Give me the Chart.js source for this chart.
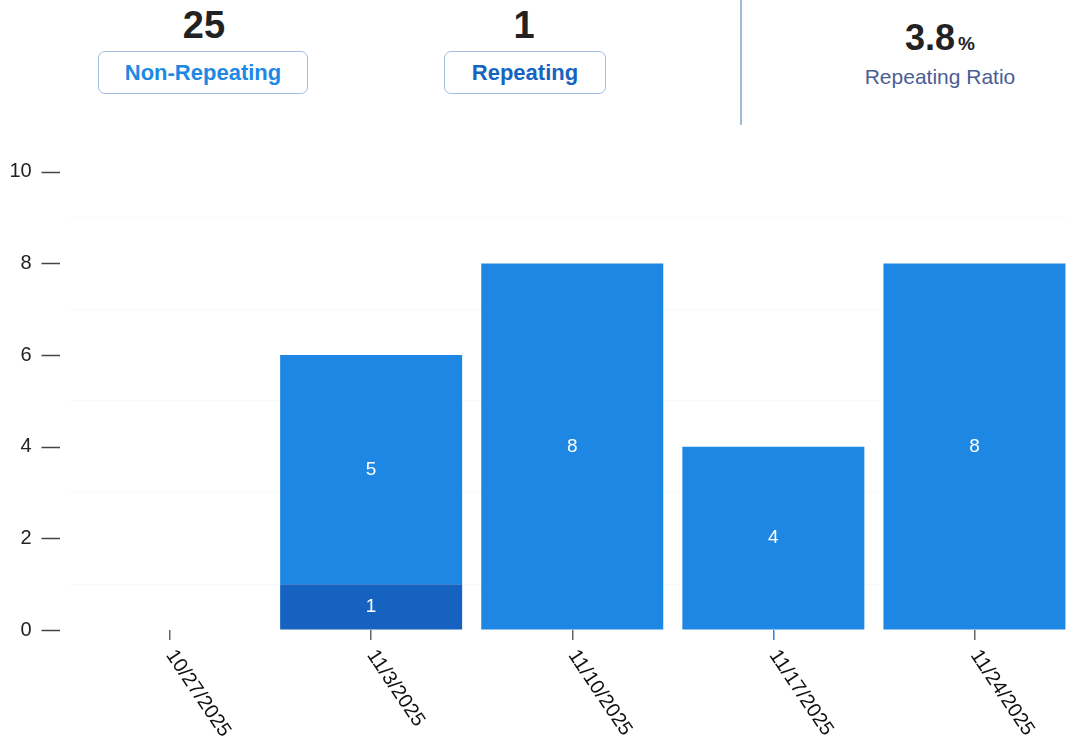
<!DOCTYPE html>
<html>
<head>
<meta charset="utf-8">
<script src="https://cdn.jsdelivr.net/npm/chart.js@4.4.0/dist/chart.umd.min.js"></script>
<style>
  html, body { margin:0; padding:0; background:#fff; overflow:hidden; width:1066px; height:747px; }
  body { position:relative; font-family:"Liberation Sans", Arial, sans-serif; }
  .num { position:absolute; font-weight:bold; color:#222; line-height:1; text-align:center; white-space:nowrap; }
  .box { position:absolute; box-sizing:border-box; border:1.5px solid #9dbde2; border-radius:7px;
         display:flex; align-items:center; justify-content:center; font-weight:bold; font-size:22px; }
  .divider { position:absolute; left:740px; top:0; width:1.5px; height:125px; background:#9fbbd8; }
  #wrap { position:absolute; left:0; top:122px; width:1075px; height:625px; }
</style>
</head>
<body>
<div class="num" style="left:144px; width:120px; top:5.8px; font-size:38px;">25</div>
<div class="box" style="left:98px; top:51px; width:210px; height:43px; color:#1e88e5;">Non-Repeating</div>
<div class="num" style="left:464px; width:120px; top:5.8px; font-size:38px;">1</div>
<div class="box" style="left:444px; top:51px; width:162px; height:43px; color:#1565c0;">Repeating</div>
<div class="divider"></div>
<div class="num" style="left:840px; width:200px; top:19.5px; font-size:36px;">3.8<span style="font-size:19px; margin-left:3px;">%</span></div>
<div class="num" style="left:840px; width:200px; top:66px; font-size:21px; font-weight:normal; color:#4b5d95;">Repeating Ratio</div>
<div id="wrap"><canvas id="c"></canvas></div>
<script>
const categories = ["10/27/2025", "11/3/2025", "11/10/2025", "11/17/2025", "11/24/2025"];
const repeating = [0, 1, 0, 0, 0];
const nonRepeating = [0, 5, 8, 4, 8];
const yTicks = [0, 2, 4, 6, 8, 10];

const valueLabels = {
  id: 'valueLabels',
  afterDatasetsDraw(chart) {
    const ctx = chart.ctx;
    ctx.save();
    ctx.fillStyle = '#ffffff';
    ctx.font = '19px "Liberation Sans", Arial, sans-serif';
    ctx.textAlign = 'center';
    ctx.textBaseline = 'middle';
    chart.data.datasets.forEach((ds, di) => {
      const meta = chart.getDatasetMeta(di);
      meta.data.forEach((el, i) => {
        const v = ds.data[i];
        if (!v) return;
        ctx.fillText(String(v), el.x, (el.y + el.base) / 2);
      });
    });
    ctx.restore();
  }
};

const axisDecor = {
  id: 'axisDecor',
  afterDraw(chart) {
    const ctx = chart.ctx;
    const ys = chart.scales.y, xs = chart.scales.x;
    const left = chart.chartArea.left;
    ctx.save();
    ctx.strokeStyle = '#444';
    ctx.lineWidth = 1.5;
    yTicks.forEach(v => {
      const py = Math.round(ys.getPixelForValue(v)) + 0.5;
      ctx.beginPath();
      ctx.moveTo(left - 28, py);
      ctx.lineTo(left - 9.5, py);
      ctx.stroke();
    });
    ctx.fillStyle = '#111';
    ctx.font = '20px "Liberation Sans", Arial, sans-serif';
    ctx.textAlign = 'left';
    ctx.textBaseline = 'middle';
    categories.forEach((c, i) => {
      const px = xs.getPixelForTick(i);
      ctx.save();
      ctx.translate(px, xs.top + 22);
      ctx.rotate(56 * Math.PI / 180);
      ctx.fillText(c, 0, 0);
      ctx.restore();
    });
    ctx.restore();
  }
};

new Chart(document.getElementById('c'), {
  type: 'bar',
  data: {
    labels: categories,
    datasets: [
      { label: 'Repeating', data: repeating, backgroundColor: '#1562c0', borderWidth: 0 },
      { label: 'Non-Repeating', data: nonRepeating, backgroundColor: '#1e86e3', borderWidth: 0 }
    ]
  },
  options: {
    responsive: true,
    maintainAspectRatio: false,
    animation: false,
    layout: { padding: { left: 0, top: 20, right: 0, bottom: 0 } },
    plugins: { legend: { display: false }, tooltip: { enabled: false } },
    datasets: { bar: { barPercentage: 0.905, categoryPercentage: 1 } },
    scales: {
      x: {
        stacked: true,
        border: { display: false },
        grid: {
          offset: false,
          drawOnChartArea: false,
          drawTicks: true,
          tickLength: 10,
          lineWidth: 1.5,
          tickColor: (c) => c.index === 3 ? '#1e88e5' : '#666'
        },
        ticks: { display: false },
        afterFit: (s) => { s.height = 117; }
      },
      y: {
        stacked: true,
        min: 0,
        max: 10,
        border: { display: false },
        grid: {
          drawTicks: false,
          color: (c) => (c.tick && c.tick.value % 2 === 1) ? 'rgba(225,236,248,0.3)' : 'rgba(0,0,0,0)'
        },
        ticks: {
          stepSize: 1,
          autoSkip: false,
          padding: 37.8,
          color: '#222',
          font: { family: '"Liberation Sans", Arial, sans-serif', size: 20 },
          callback: (v) => yTicks.includes(v) ? String(v) : ''
        },
        afterFit: (s) => { s.width = 69.5; }
      }
    }
  },
  plugins: [valueLabels, axisDecor]
});
</script>
</body>
</html>
